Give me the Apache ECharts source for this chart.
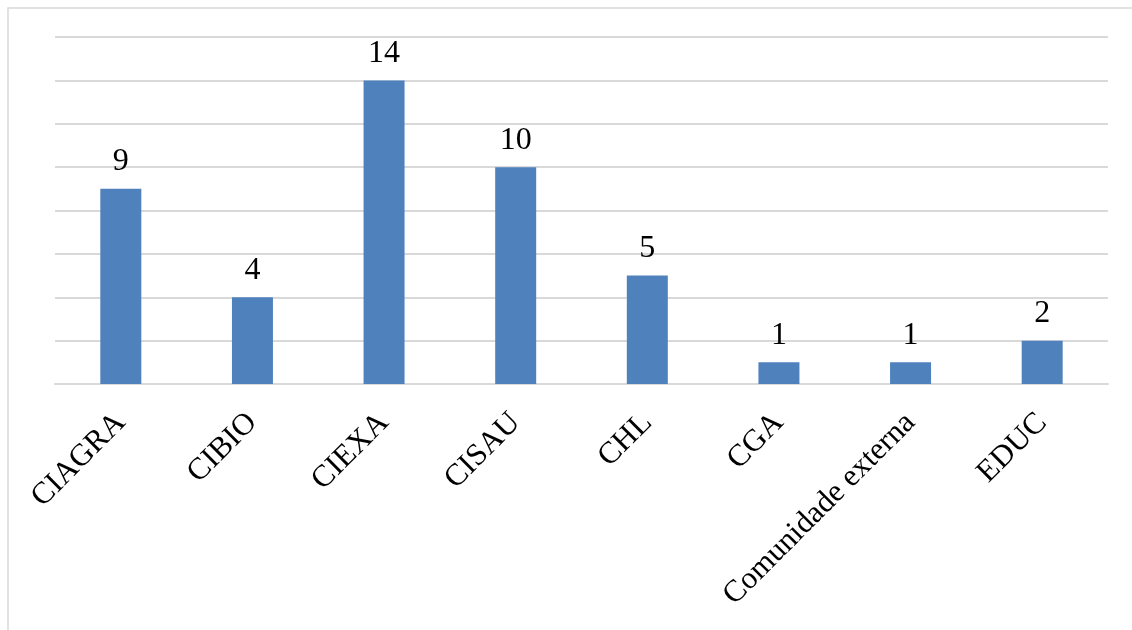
<!DOCTYPE html>
<html>
<head>
<meta charset="utf-8">
<script src="https://cdn.jsdelivr.net/npm/echarts@6/dist/echarts.min.js"></script>
<style>
html,body{margin:0;padding:0;background:#fff;}
#c{width:1132px;height:630px;}
</style>
</head>
<body>
<div id="c"></div>
<script>
const categories = ["CIAGRA", "CIBIO", "CIEXA", "CISAU", "CHL", "CGA", "Comunidade externa", "EDUC"];
const values = [9, 4, 14, 10, 5, 1, 1, 2];
const yMin = 0, yMax = 16, yInterval = 2;

const chart = echarts.init(document.getElementById('c'), null, {renderer: 'canvas'});
const font = '"Liberation Serif", "Times New Roman", serif';
chart.setOption({
  animation: false,
  backgroundColor: '#fff',
  graphic: [{
    type: 'rect',
    shape: {x: 8, y: 8, width: 1140, height: 640},
    style: {fill: 'none', stroke: '#d9d9d9', lineWidth: 1.5},
    silent: true
  }],
  grid: {left: 55, right: 24, top: 37, bottom: 246, containLabel: false},
  xAxis: {
    type: 'category',
    data: categories,
    axisLine: {show: true, lineStyle: {color: '#d9d9d9', width: 2}},
    axisTick: {show: false},
    axisLabel: {
      interval: 0,
      rotate: 45,
      margin: 34,
      color: '#000',
      fontFamily: font,
      fontSize: 31
    }
  },
  yAxis: {
    type: 'value',
    min: yMin, max: yMax, interval: yInterval,
    axisLine: {show: false},
    axisTick: {show: false},
    axisLabel: {show: false},
    splitLine: {show: true, lineStyle: {color: '#d9d9d9', width: 2}}
  },
  series: [{
    type: 'bar',
    data: values,
    barWidth: 41,
    itemStyle: {color: '#4F81BD'},
    label: {
      show: true,
      position: 'top',
      distance: 11,
      color: '#000',
      fontFamily: font,
      fontSize: 32
    }
  }]
});
</script>
</body>
</html>
